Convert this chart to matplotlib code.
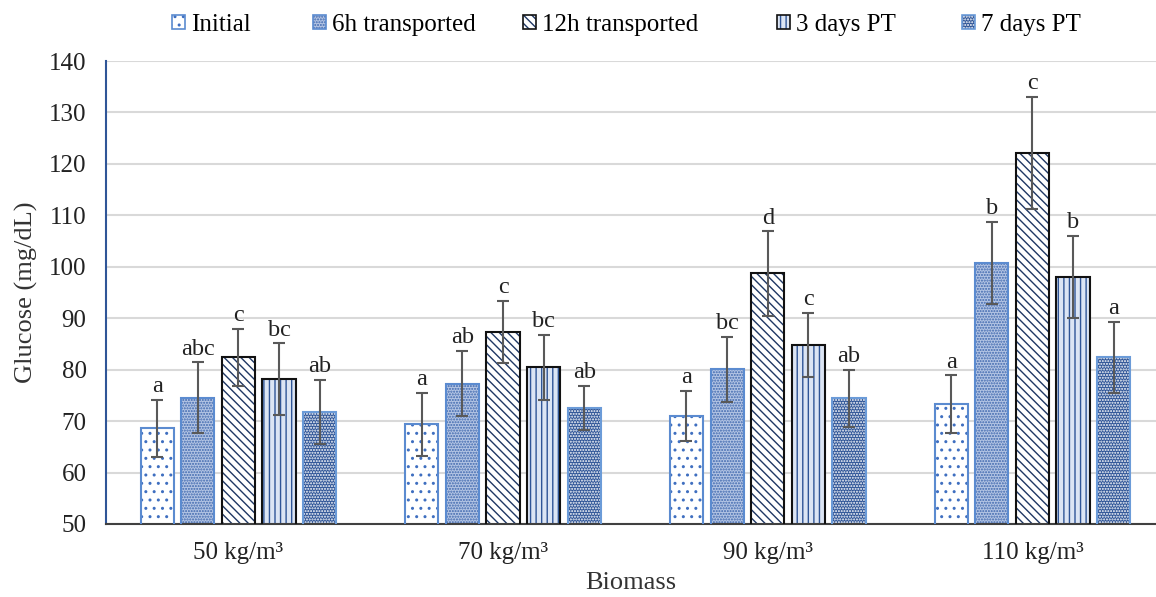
import numpy as np
import matplotlib
matplotlib.use("Agg")
import matplotlib.pyplot as plt
from matplotlib.patches import Patch

# ── Data ────────────────────────────────────────────────────────────────────
BIOMASS = ["50 kg/m³", "70 kg/m³", "90 kg/m³", "110 kg/m³"]
SERIES = ["Initial", "6h transported", "12h transported", "3 days PT", "7 days PT"]

INITIAL = [68.6, 69.4, 71.0, 73.3]
H6      = [74.5, 77.3, 80.1, 100.7]
H12     = [82.4, 87.3, 98.7, 122.1]
D3      = [78.1, 80.5, 84.8, 98.0]
D7      = [71.8, 72.6, 74.4, 82.4]

ERR_INITIAL = [5.5, 6.1, 4.9, 5.6]
ERR_H6      = [6.9, 6.3, 6.3, 8.0]
ERR_H12     = [5.5, 6.1, 8.2, 10.9]
ERR_D3      = [7.0, 6.3, 6.2, 8.0]
ERR_D7      = [6.2, 4.3, 5.6, 6.9]

LET_INITIAL = ["a", "a", "a", "a"]
LET_H6      = ["abc", "ab", "bc", "b"]
LET_H12     = ["c", "c", "d", "c"]
LET_D3      = ["bc", "bc", "c", "b"]
LET_D7      = ["ab", "ab", "ab", "a"]

values  = [INITIAL, H6, H12, D3, D7]
errors  = [ERR_INITIAL, ERR_H6, ERR_H12, ERR_D3, ERR_D7]
letters = [LET_INITIAL, LET_H6, LET_H12, LET_D3, LET_D7]

# (face, hatch colour, hatch, edge colour)
STYLES = [
    ("white",   "#3f6fc0", "..",       "#5b8bd0"),
    ("#b4c5e4", "#3d66ad", "......",   "#5b8bd0"),
    ("white",   "#1f3864", "\\\\\\\\", "#111111"),
    ("#dce5f4", "#2f5597", "|||",      "#111111"),
    ("#2f5597", "white",   "......",   "#6b9bd8"),
]

# legend square x positions (px) in the reference
LEG_X = [172, 313, 523, 777, 962]

plt.rcParams["font.family"] = ["Liberation Serif", "DejaVu Serif"]
plt.rcParams["hatch.linewidth"] = 1.0

W, H = 1156, 597
fig = plt.figure(figsize=(W / 100, H / 100), dpi=100)
ax = fig.add_axes([106 / W, 1 - 524 / H, 1 - 106 / W, (524 - 61) / H])

x = np.arange(len(BIOMASS))
step = 0.1535
width = 0.125

handles = []
for i, (vals, errs, lets, (fc, hc, hatch, ec)) in enumerate(zip(values, errors, letters, STYLES)):
    pos = x + (i - 2) * step
    ax.bar(pos, vals, width, color=fc, edgecolor=hc, hatch=hatch, linewidth=0, zorder=2)
    ax.bar(pos, vals, width, fill=False, edgecolor=ec, linewidth=1.5, zorder=3)
    ax.errorbar(pos, vals, yerr=errs, fmt="none", ecolor="#595959",
                elinewidth=1.5, capsize=4.5, capthick=1.5, zorder=4)
    for px, v, e, t in zip(pos, vals, errs, lets):
        ax.annotate(t, xy=(px, v + e), xytext=(0, 2), textcoords="offset points",
                    ha="center", va="bottom", fontsize=17.5, color="#222222")
    h1 = Patch(facecolor=fc, edgecolor=hc, hatch=hatch, linewidth=0)
    h2 = Patch(fill=False, edgecolor=ec, linewidth=1.2)
    handles.append((h1, h2))

ax.set_xlim(-0.5, 3.467)
ax.set_ylim(50, 140)
ax.set_yticks(np.arange(50, 141, 10))
ax.set_xticks(x)
ax.set_xticklabels(BIOMASS)
ax.tick_params(axis="both", length=0, labelsize=18, colors="#222222")
ax.tick_params(axis="x", pad=13)
ax.tick_params(axis="y", pad=14)

ax.grid(True, axis="y", color="#d9d9d9", linewidth=1.5, zorder=0)
ax.set_axisbelow(True)
for s in ["top", "right"]:
    ax.spines[s].set_visible(False)
ax.spines["left"].set_color("#2f5597")
ax.spines["left"].set_linewidth(1.5)
ax.spines["bottom"].set_color("#404040")
ax.spines["bottom"].set_linewidth(1.5)

ax.set_ylabel("Glucose (mg/dL)", fontsize=19, color="#333333", labelpad=8)
ax.set_xlabel("Biomass", fontsize=19, color="#333333", labelpad=6)

# one legend entry per series, placed where the reference has them
for hdl, name, lx in zip(handles, SERIES, LEG_X):
    fig.legend([hdl], [name], loc="center left", bbox_to_anchor=(lx / W, 1 - 25 / H),
               frameon=False, fontsize=18, handlelength=0.5, handleheight=0.5,
               handletextpad=0.25, borderpad=0, borderaxespad=0)

fig.savefig("out.png", dpi=100)
